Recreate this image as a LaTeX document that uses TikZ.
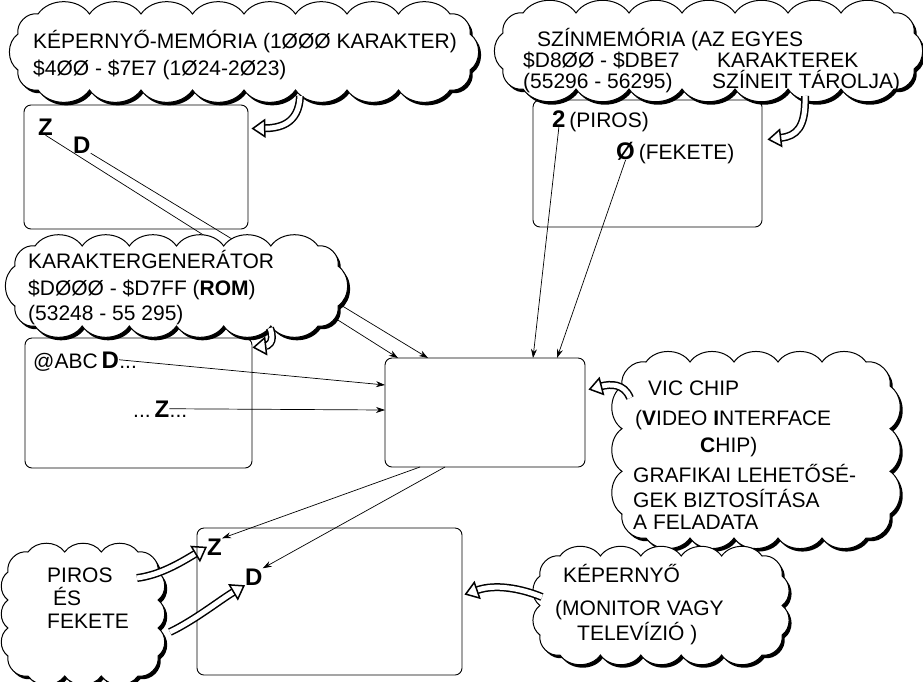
\documentclass[tikz,border=0pt]{standalone}
\usepackage{fontspec}
\setmainfont{Liberation Sans}
\usetikzlibrary{arrows.meta,calc}

% closed cloud outline of puffs round a rectangle: x1 y1 x2 y2 nTop nSide r
\newcommand\cloudpath[7]{%
  ({#1+#7},#2)
  \foreach \k in {1,...,#5}{ to[puff] ({#1+#7+(#3-#1-2*#7)*\k/#5},#2) }
  to[puff] (#3,{#2+#7})
  \foreach \k in {1,...,#6}{ to[puff] (#3,{#2+#7+(#4-#2-2*#7)*\k/#6}) }
  to[puff] ({#3-#7},#4)
  \foreach \k in {1,...,#5}{ to[puff] ({#3-#7-(#3-#1-2*#7)*\k/#5},#4) }
  to[puff] (#1,{#4-#7})
  \foreach \k in {1,...,#6}{ to[puff] (#1,{#4-#7-(#4-#2-2*#7)*\k/#6}) }
  to[puff] ({#1+#7},#2) -- cycle}

\begin{document}
\begin{tikzpicture}[x=1pt,y=-1pt,
  puff/.style={bend left=55},
  cloudshadow/.style={fill=black, shift={(2.5,3)}},
  cloudbody/.style={draw=black, line width=1pt, fill=white},
  box/.style={draw=black, line width=0.9pt, rounded corners=7pt, fill=white, inner sep=0pt},
  txt/.style={anchor=base west, inner sep=0pt, font=\fontsize{21}{25}\selectfont},
  btxt/.style={anchor=base west, inner sep=0pt, font=\fontsize{24}{28}\selectfont\bfseries},
  link/.style={line width=0.7pt, -{Stealth[length=9pt, width=6pt]}},
  tail/.style={line width=1.5pt, double=white, double distance=5pt,
    -{Triangle[open, length=14pt, width=19pt]}}]
\useasboundingbox (0,0) rectangle (923,681);
\fill[white] (0,0) rectangle (923,681);

% ---------- boxes ----------
\node[box, minimum width=224pt, minimum height=124pt] (scr) at (136,167) {};
\node[box, minimum width=229pt, minimum height=127pt] (col) at (647.5,163.5) {};
\node[box, minimum width=227pt, minimum height=130pt] (gen) at (138.5,403) {};
\node[box, minimum width=200pt, minimum height=109pt] (vic) at (485,412.5) {};
\node[box, minimum width=265pt, minimum height=147pt] (tv) at (329.5,601.5) {};

% ---------- box contents ----------
\node[btxt] (z1) at (38,135) {Z};
\node[btxt] (d1) at (73,153) {D};
\node[btxt] (two) at (552,127) {2};
\node[txt] (piros) at (two.base east) {\,(PIROS)};
\node[btxt] (zero) at (616,159) {Ø};
\node[txt] (fekete) at (zero.base east) {\,(FEKETE)};
\node[txt] (abc) at (33,368) {@ABC\,};
\node[btxt] (d3) at (abc.base east) {D};
\node[txt] (dotsa) at (d3.base east) {...};
\node[txt] (dotsb) at (133,417) {...\,};
\node[btxt] (z3) at (dotsb.base east) {Z};
\node[txt] (dotsc) at (z3.base east) {...};
\node[btxt] (z4) at (207,555) {Z};
\node[btxt] (d4) at (245,585) {D};

% ---------- end points on the VIC box ----------
\coordinate (v1) at (398,358);
\coordinate (v2) at (428,358);
\coordinate (v3) at (533,358);
\coordinate (v4) at (557,358);
\coordinate (v5) at (385,385);
\coordinate (v6) at (385,410);
\coordinate (v7) at (420,467);
\coordinate (v8) at (445,467);

% ---------- thin connectors ----------
\draw[link] (z1.south) -- (v1);
\draw[link] (d1.south east) -- (v2);
\draw[link] (two.south) -- (v3);
\draw[link] (zero.south) -- (v4);
\draw[link] (d3.east) -- (v5);
\draw[link] (z3.east) -- (v6);
\draw[link] (v7) -- (z4.north east);
\draw[link] (v8) -- (d4.north east);

% ---------- clouds ----------
\fill[cloudshadow] \cloudpath{18}{14}{470}{90}{8}{1}{20};
\path[cloudbody] \cloudpath{18}{14}{470}{90}{8}{1}{20};
\fill[cloudshadow] \cloudpath{503}{13}{914}{89}{7}{1}{20};
\path[cloudbody] \cloudpath{503}{13}{914}{89}{7}{1}{20};
\fill[cloudshadow] \cloudpath{15}{246}{338}{326}{6}{1}{20};
\path[cloudbody] \cloudpath{15}{246}{338}{326}{6}{1}{20};
\fill[cloudshadow] \cloudpath{622}{362}{890}{538}{5}{3}{24};
\path[cloudbody] \cloudpath{622}{362}{890}{538}{5}{3}{24};
\fill[cloudshadow] \cloudpath{8}{552}{158}{676}{3}{3}{20};
\path[cloudbody] \cloudpath{8}{552}{158}{676}{3}{3}{20};
\fill[cloudshadow] \cloudpath{540}{556}{782}{655}{5}{2}{20};
\path[cloudbody] \cloudpath{540}{556}{782}{655}{5}{2}{20};

% ---------- cloud tails ----------
\coordinate (c1) at (300,96);
\coordinate (c2) at (805,96);
\coordinate (c3) at (270,328);
\coordinate (c4) at (630,398);
\coordinate (c5a) at (137,578);
\coordinate (c5b) at (170,632);
\coordinate (c6) at (542,597);
\draw[tail] (c1) .. controls (299,125) and (278,128) .. ($(scr.north east)+(3,24)$);
\draw[tail] (c2) .. controls (806,128) and (796,136) .. ($(col.north east)+(5,40)$);
\draw[tail] (c3) .. controls (276,344) and (266,346) .. ($(gen.north east)+(0,10)$);
\draw[tail] (c4) .. controls (624,383) and (610,384) .. ($(vic.north east)+(3,32)$);
\draw[tail] (c5a) .. controls (160,575) and (180,563) .. (z4.west);
\draw[tail] (c5b) .. controls (195,620) and (220,600) .. (d4.south west);
\draw[tail] (c6) .. controls (520,588) and (495,584) .. ($(tv.north east)+(2,67)$);

% ---------- cloud texts ----------
\node[txt] (k1) at (33,48) {KÉPERNYŐ-MEMÓRIA (1ØØØ KARAKTER)};
\node[txt] (k2) at (33,75) {\$4ØØ - \$7E7 (1Ø24-2Ø23)};

\node[txt] (s1) at (537,46) {SZÍNMEMÓRIA (AZ EGYES};
\node[txt] (s2) at (523,67) {\$D8ØØ - \$DBE7};
\node[txt] (s3) at (717,67) {KARAKTEREK};
\node[txt] (s4) at (523,88) {(55296 - 56295)};
\node[txt] (s5) at (712,88) {SZÍNEIT TÁROLJA)};

\node[txt] (g1) at (28,268) {KARAKTERGENERÁTOR};
\node[txt] (g2) at (28,295) {\$DØØØ - \$D7FF (\textbf{ROM})};
\node[txt] (g3) at (28,320) {(53248 - 55 295)};

\node[txt] (v1t) at (648,395) {VIC CHIP};
\node[txt] (v2t) at (635,425) {(\textbf{V}IDEO \textbf{I}NTERFACE};
\node[txt] (v3t) at (700,452) {\textbf{C}HIP)};
\node[txt] (v4t) at (633,482) {GRAFIKAI LEHETŐSÉ-};
\node[txt] (v5t) at (633,507) {GEK BIZTOSÍTÁSA};
\node[txt] (v6t) at (633,529) {A FELADATA};

\node[txt] (p1) at (47,582) {PIROS};
\node[txt] (p2) at (53,605) {ÉS};
\node[txt] (p3) at (47,628) {FEKETE};

\node[txt] (m1) at (563,582) {KÉPERNYŐ};
\node[txt] (m2) at (555,615) {(MONITOR VAGY};
\node[txt] (m3) at (577,640) {TELEVÍZIÓ )};
\end{tikzpicture}
\end{document}
